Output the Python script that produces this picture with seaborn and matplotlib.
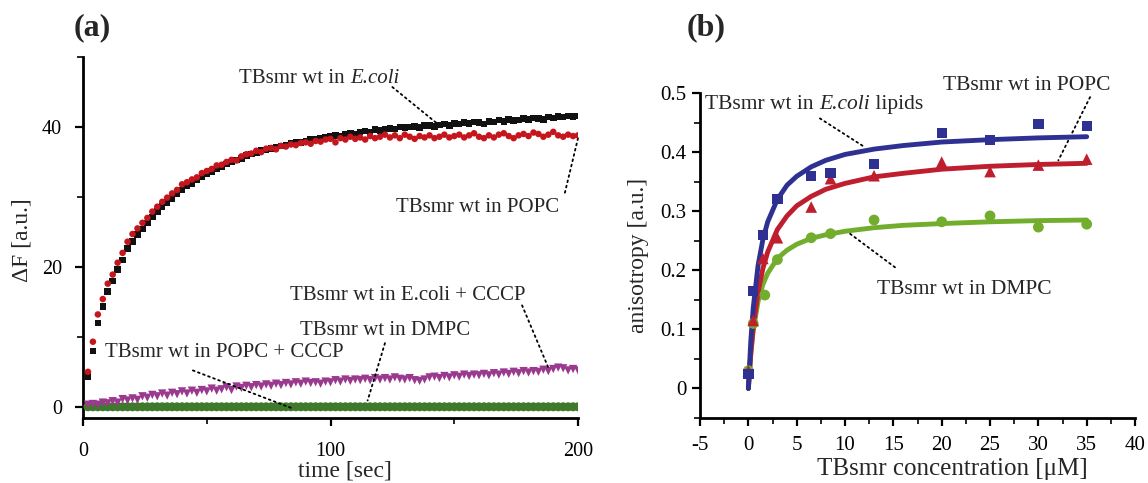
import numpy as np
import pandas as pd
import matplotlib
matplotlib.use("Agg")
import matplotlib.pyplot as plt
import seaborn as sns
from matplotlib.ticker import MultipleLocator

# ---- panel (a): fluorescence change vs time ----
time_s = list(range(2, 202, 2))

ecoli_f = [4.3, 8.0, 12.0, 14.3, 16.5, 18.0, 19.6, 21.0, 22.6, 23.6,
           24.6, 25.4, 26.3, 27.1, 27.9, 28.6, 29.2, 29.8, 30.5, 31.0,
           31.6, 31.9, 32.4, 32.9, 33.3, 33.6, 34.0, 34.3, 34.7, 35.0,
           35.3, 35.5, 35.9, 36.1, 36.3, 36.6, 36.7, 36.9, 37.1, 37.3,
           37.4, 37.6, 37.8, 37.8, 38.0, 38.2, 38.2, 38.4, 38.5, 38.6,
           38.8, 38.7, 39.0, 39.1, 39.0, 39.3, 39.4, 39.3, 39.6, 39.5,
           39.7, 39.8, 39.7, 40.0, 39.9, 40.0, 40.1, 39.9, 40.2, 40.2,
           40.1, 40.3, 40.4, 40.2, 40.5, 40.4, 40.6, 40.5, 40.7, 40.6,
           40.4, 40.8, 40.7, 41.0, 40.8, 41.1, 40.9, 41.0, 41.2, 41.1,
           41.3, 41.2, 41.1, 41.4, 41.3, 41.5, 41.4, 41.6, 41.5, 41.6]

popc_f = [5.0, 9.3, 13.2, 15.4, 17.6, 18.9, 20.6, 22.0, 23.6, 24.7,
          25.5, 26.3, 27.0, 27.9, 28.6, 29.3, 29.9, 30.5, 31.0, 31.8,
          32.1, 32.5, 32.8, 33.4, 33.7, 34.0, 34.5, 34.6, 35.0, 35.3,
          35.2, 35.8, 36.1, 36.2, 36.6, 36.4, 36.9, 37.0, 36.8, 37.3,
          37.2, 37.5, 37.4, 37.7, 37.8, 37.6, 38.0, 37.9, 38.2, 38.3,
          37.8, 38.4, 38.2, 38.6, 38.3, 38.5, 38.2, 38.7, 38.4, 38.6,
          38.9, 38.5, 38.8, 38.4, 38.9, 38.6, 38.3, 38.7, 38.5, 38.8,
          38.4, 38.6, 38.9, 38.5, 38.7, 38.9, 38.5, 38.8, 39.1, 38.6,
          38.4, 38.8, 38.5, 38.9, 39.1, 38.7, 38.4, 38.8, 39.0, 38.7,
          39.2, 39.0, 38.6, 38.9, 39.3, 38.8, 38.6, 38.9, 38.7, 38.8]

ecoli_cccp_f = [0.3, 0.4, 0.3, 0.6, 0.5, 0.8, 0.6, 1.1, 0.9, 1.2,
                1.0, 1.5, 1.3, 1.7, 1.5, 1.9, 1.6, 2.0, 1.8, 2.2,
                1.9, 2.3, 2.0, 2.4, 2.2, 2.6, 2.3, 2.5, 2.8, 2.4,
                2.9, 2.7, 3.0, 2.8, 3.1, 2.9, 3.2, 3.0, 3.3, 3.1,
                3.4, 3.2, 3.5, 3.3, 3.6, 3.4, 3.5, 3.3, 3.6, 3.5,
                3.8, 3.6, 3.9, 3.7, 3.9, 3.8, 4.0, 3.8, 4.1, 3.9,
                4.1, 3.9, 4.2, 4.0, 3.9, 4.1, 3.8, 3.7, 3.9, 4.2,
                4.3, 4.1, 4.4, 4.2, 4.5, 4.3, 4.6, 4.4, 4.6, 4.5,
                4.7, 4.5, 4.8, 4.6, 4.9, 4.7, 5.0, 4.8, 5.1, 4.9,
                5.1, 5.0, 5.3, 5.1, 5.4, 5.6, 5.5, 5.2, 5.4, 5.2]

popc_cccp_f = [0.15, 0.15, 0.15, 0.15, 0.15, 0.15, 0.15, 0.15, 0.15, 0.15,
               0.15, 0.15, 0.15, 0.15, 0.15, 0.15, 0.15, 0.15, 0.15, 0.15,
               0.15, 0.15, 0.15, 0.15, 0.15, 0.15, 0.15, 0.15, 0.15, 0.15,
               0.15, 0.15, 0.15, 0.15, 0.15, 0.15, 0.15, 0.15, 0.15, 0.15,
               0.15, 0.15, 0.15, 0.15, 0.15, 0.15, 0.15, 0.15, 0.15, 0.15,
               0.15, 0.15, 0.15, 0.15, 0.15, 0.15, 0.15, 0.15, 0.15, 0.15,
               0.15, 0.15, 0.15, 0.15, 0.15, 0.15, 0.15, 0.15, 0.15, 0.15,
               0.15, 0.15, 0.15, 0.15, 0.15, 0.15, 0.15, 0.15, 0.15, 0.15,
               0.15, 0.15, 0.15, 0.15, 0.15, 0.15, 0.15, 0.15, 0.15, 0.15,
               0.15, 0.15, 0.15, 0.15, 0.15, 0.15, 0.15, 0.15, 0.15, 0.15]

dmpc_f = [0.0, 0.0, 0.0, 0.0, 0.0, 0.0, 0.0, 0.0, 0.0, 0.0,
          0.0, 0.0, 0.0, 0.0, 0.0, 0.0, 0.0, 0.0, 0.0, 0.0,
          0.0, 0.0, 0.0, 0.0, 0.0, 0.0, 0.0, 0.0, 0.0, 0.0,
          0.0, 0.0, 0.0, 0.0, 0.0, 0.0, 0.0, 0.0, 0.0, 0.0,
          0.0, 0.0, 0.0, 0.0, 0.0, 0.0, 0.0, 0.0, 0.0, 0.0,
          0.0, 0.0, 0.0, 0.0, 0.0, 0.0, 0.0, 0.0, 0.0, 0.0,
          0.0, 0.0, 0.0, 0.0, 0.0, 0.0, 0.0, 0.0, 0.0, 0.0,
          0.0, 0.0, 0.0, 0.0, 0.0, 0.0, 0.0, 0.0, 0.0, 0.0,
          0.0, 0.0, 0.0, 0.0, 0.0, 0.0, 0.0, 0.0, 0.0, 0.0,
          0.0, 0.0, 0.0, 0.0, 0.0, 0.0, 0.0, 0.0, 0.0, 0.0]

# ---- panel (b): anisotropy vs concentration ----
conc_um = [0, 0.5, 1.5, 3, 6.5, 8.5, 13, 20, 25, 30, 35]
conc_dmpc_um = [0, 0.5, 1.7, 3, 6.5, 8.5, 13, 20, 25, 30, 35]
aniso_ecoli = [0.025, 0.165, 0.26, 0.32, 0.36, 0.365, 0.38, 0.432, 0.42, 0.447, 0.444]
aniso_popc = [0.03, 0.115, 0.22, 0.255, 0.307, 0.355, 0.36, 0.383, 0.367, 0.378, 0.388]
aniso_dmpc = [0.03, 0.11, 0.158, 0.218, 0.255, 0.262, 0.285, 0.282, 0.292, 0.273, 0.278]

# fitted curves as drawn in the figure
fit_conc = [0, 0.25, 0.5, 1, 1.5, 2, 3, 4, 5, 6.5, 8, 10, 13, 16, 20, 25, 30, 35]
fit_ecoli = [0.0, 0.080, 0.136, 0.208, 0.252, 0.282, 0.320, 0.344, 0.359, 0.375,
             0.386, 0.396, 0.405, 0.411, 0.417, 0.421, 0.424, 0.426]
fit_popc = [0.0, 0.059, 0.103, 0.163, 0.203, 0.231, 0.269, 0.292, 0.309, 0.325,
            0.337, 0.347, 0.358, 0.364, 0.371, 0.376, 0.379, 0.381]
fit_dmpc = [0.0, 0.059, 0.098, 0.147, 0.176, 0.195, 0.220, 0.234, 0.244, 0.254,
            0.260, 0.266, 0.272, 0.276, 0.279, 0.282, 0.284, 0.285]

sns.set_style("ticks")
plt.rcParams["font.family"] = ["Liberation Serif", "DejaVu Serif"]

fig = plt.figure(figsize=(11.48, 4.83), dpi=100)
ax1 = fig.add_axes([0.0723, 0.1346, 0.4312, 0.7474])
ax2 = fig.add_axes([0.6098, 0.1346, 0.3789, 0.6729])

df_a = pd.DataFrame({"time": time_s, "ecoli": ecoli_f, "popc": popc_f,
                     "ecoli_cccp": ecoli_cccp_f, "popc_cccp": popc_cccp_f,
                     "dmpc": dmpc_f})

sns.scatterplot(data=df_a, x="time", y="popc_cccp", ax=ax1, marker="o", s=12,
                color="#2b3a9a", edgecolor="none", zorder=2)
sns.scatterplot(data=df_a, x="time", y="dmpc", ax=ax1, marker="o", s=42,
                color="#3f7a2c", edgecolor="none", zorder=3)
sns.scatterplot(data=df_a, x="time", y="ecoli_cccp", ax=ax1, marker="v", s=36,
                color="#9a3a8e", edgecolor="none", zorder=3)
sns.scatterplot(data=df_a, x="time", y="ecoli", ax=ax1, marker="s", s=22,
                color="#111111", edgecolor="none", zorder=3)
sns.scatterplot(data=df_a, x="time", y="popc", ax=ax1, marker="o", s=22,
                color="#c4161c", edgecolor="none", zorder=4)

ax1.set_xlim(0, 200)
ax1.set_ylim(-1.6, 50)
ax1.xaxis.set_major_locator(MultipleLocator(100))
ax1.xaxis.set_minor_locator(MultipleLocator(50))
ax1.yaxis.set_major_locator(MultipleLocator(20))
ax1.yaxis.set_minor_locator(MultipleLocator(10))
ax1.set_xlabel("time [sec]", fontsize=17, va="top")
ax1.set_ylabel("\u0394F [a.u.]", fontsize=17)
ax1.xaxis.set_label_coords(0.529, -0.118)
ax1.yaxis.set_label_coords(-0.103, 0.493)

dot = dict(arrowstyle="-", linestyle=(0, (1, 2)), lw=1.3, color="black",
           shrinkA=0, shrinkB=0)


def mixed_label(ax, x, y, parts, fs):
    # parts: list of (text, italic) pieces written one after another
    t = ax.text(x, y, parts[0][0], fontsize=fs, va="bottom",
                style="italic" if parts[0][1] else "normal")
    for txt, it in parts[1:]:
        t = ax.annotate(txt, xy=(1, 0), xycoords=t, va="bottom", ha="left",
                        fontsize=fs, style="italic" if it else "normal")
    return t


fa = 15
mixed_label(ax1, 63, 45.6, [("TBsmr wt in ", False), ("E.coli", True)], fa)
ax1.annotate("", xy=(143.4, 40.4), xytext=(125, 45.7), arrowprops=dot)
ax1.text(126.5, 28.5, "TBsmr wt in POPC", fontsize=fa, va="center")
ax1.annotate("", xy=(200, 38.4), xytext=(194.7, 30.6), arrowprops=dot)
ax1.text(83.6, 15.9, "TBsmr wt in E.coli + CCCP", fontsize=fa, va="center")
ax1.annotate("", xy=(188, 5.6), xytext=(177.4, 14.5), arrowprops=dot)
ax1.text(87.7, 10.9, "TBsmr wt in DMPC", fontsize=fa, va="center")
ax1.annotate("", xy=(115, 0.9), xytext=(122, 9.1), arrowprops=dot)
ax1.text(8.9, 7.8, "TBsmr wt in POPC + CCCP", fontsize=fa, va="center")
ax1.annotate("", xy=(84.4, -0.2), xytext=(44.4, 5.2), arrowprops=dot)

df_pts = pd.DataFrame({"conc": conc_um, "conc_dmpc": conc_dmpc_um,
                       "ecoli": aniso_ecoli, "popc": aniso_popc, "dmpc": aniso_dmpc})
df_fit = pd.DataFrame({"conc": fit_conc, "ecoli": fit_ecoli, "popc": fit_popc,
                       "dmpc": fit_dmpc})

blue, red, green = "#2e3192", "#be1e2d", "#72ad2e"
sns.lineplot(data=df_fit, x="conc", y="dmpc", ax=ax2, color=green, lw=3.5, zorder=2)
sns.lineplot(data=df_fit, x="conc", y="popc", ax=ax2, color=red, lw=3.5, zorder=3)
sns.lineplot(data=df_fit, x="conc", y="ecoli", ax=ax2, color=blue, lw=3.5, zorder=4)
sns.scatterplot(data=df_pts, x="conc_dmpc", y="dmpc", ax=ax2, marker="o", s=60,
                color=green, edgecolor="none", zorder=5)
sns.scatterplot(data=df_pts, x="conc", y="popc", ax=ax2, marker="^", s=70,
                color=red, edgecolor="none", zorder=5)
sns.scatterplot(data=df_pts, x="conc", y="ecoli", ax=ax2, marker="s", s=55,
                color=blue, edgecolor="none", zorder=6)

ax2.set_xlim(-5, 40)
ax2.set_ylim(-0.05, 0.5)
ax2.xaxis.set_minor_locator(MultipleLocator(2.5))
ax2.yaxis.set_minor_locator(MultipleLocator(0.05))
ax2.set_yticks([0, 0.1, 0.2, 0.3, 0.4, 0.5])
ax2.set_yticklabels(["0", "0.1", "0.2", "0.3", "0.4", "0.5"])
ax2.set_xticks([-5, 0, 5, 10, 15, 20, 25, 30, 35, 40])
ax2.set_xticklabels(["-5", "0", "5", "10", "15", "20", "25", "30", "35", "40"])
ax2.set_xlabel("TBsmr concentration [\u03bcM]", fontsize=18, va="top")
ax2.set_ylabel("anisotropy [a.u.]", fontsize=17)
ax2.xaxis.set_label_coords(0.579, -0.122)
ax2.yaxis.set_label_coords(-0.118, 0.5)

fb = 15.5
mixed_label(ax2, -4.47, 0.465, [("TBsmr wt in ", False), ("E.coli", True),
                                (" lipids", False)], fb)
ax2.annotate("", xy=(12.07, 0.408), xytext=(7.4, 0.457), arrowprops=dot)
ax2.text(20.15, 0.512, "TBsmr wt in POPC", fontsize=fb, va="center")
ax2.annotate("", xy=(32.07, 0.386), xytext=(35.35, 0.493), arrowprops=dot)
ax2.text(13.28, 0.168, "TBsmr wt in DMPC", fontsize=fb, va="center")
ax2.annotate("", xy=(10.5, 0.262), xytext=(15.17, 0.205), arrowprops=dot)

for ax, lab_fs, pad_x, pad_y in ((ax1, 14.5, 11, 9), (ax2, 15, 7, 4)):
    sns.despine(ax=ax)
    for side in ("left", "bottom"):
        ax.spines[side].set_linewidth(2)
        ax.spines[side].set_color("black")
    ax.tick_params(which="major", direction="out", length=6, width=1.6,
                   labelsize=lab_fs, colors="black")
    ax.tick_params(which="minor", direction="out", length=4, width=1.4)
    ax.tick_params(axis="x", which="major", pad=pad_x)
    ax.tick_params(axis="y", which="major", pad=pad_y)

fig.text(0.080, 0.942, "(a)", fontsize=23, fontweight="bold", ha="center", va="center")
fig.text(0.615, 0.942, "(b)", fontsize=23, fontweight="bold", ha="center", va="center")

fig.savefig("out.png", dpi=100)
